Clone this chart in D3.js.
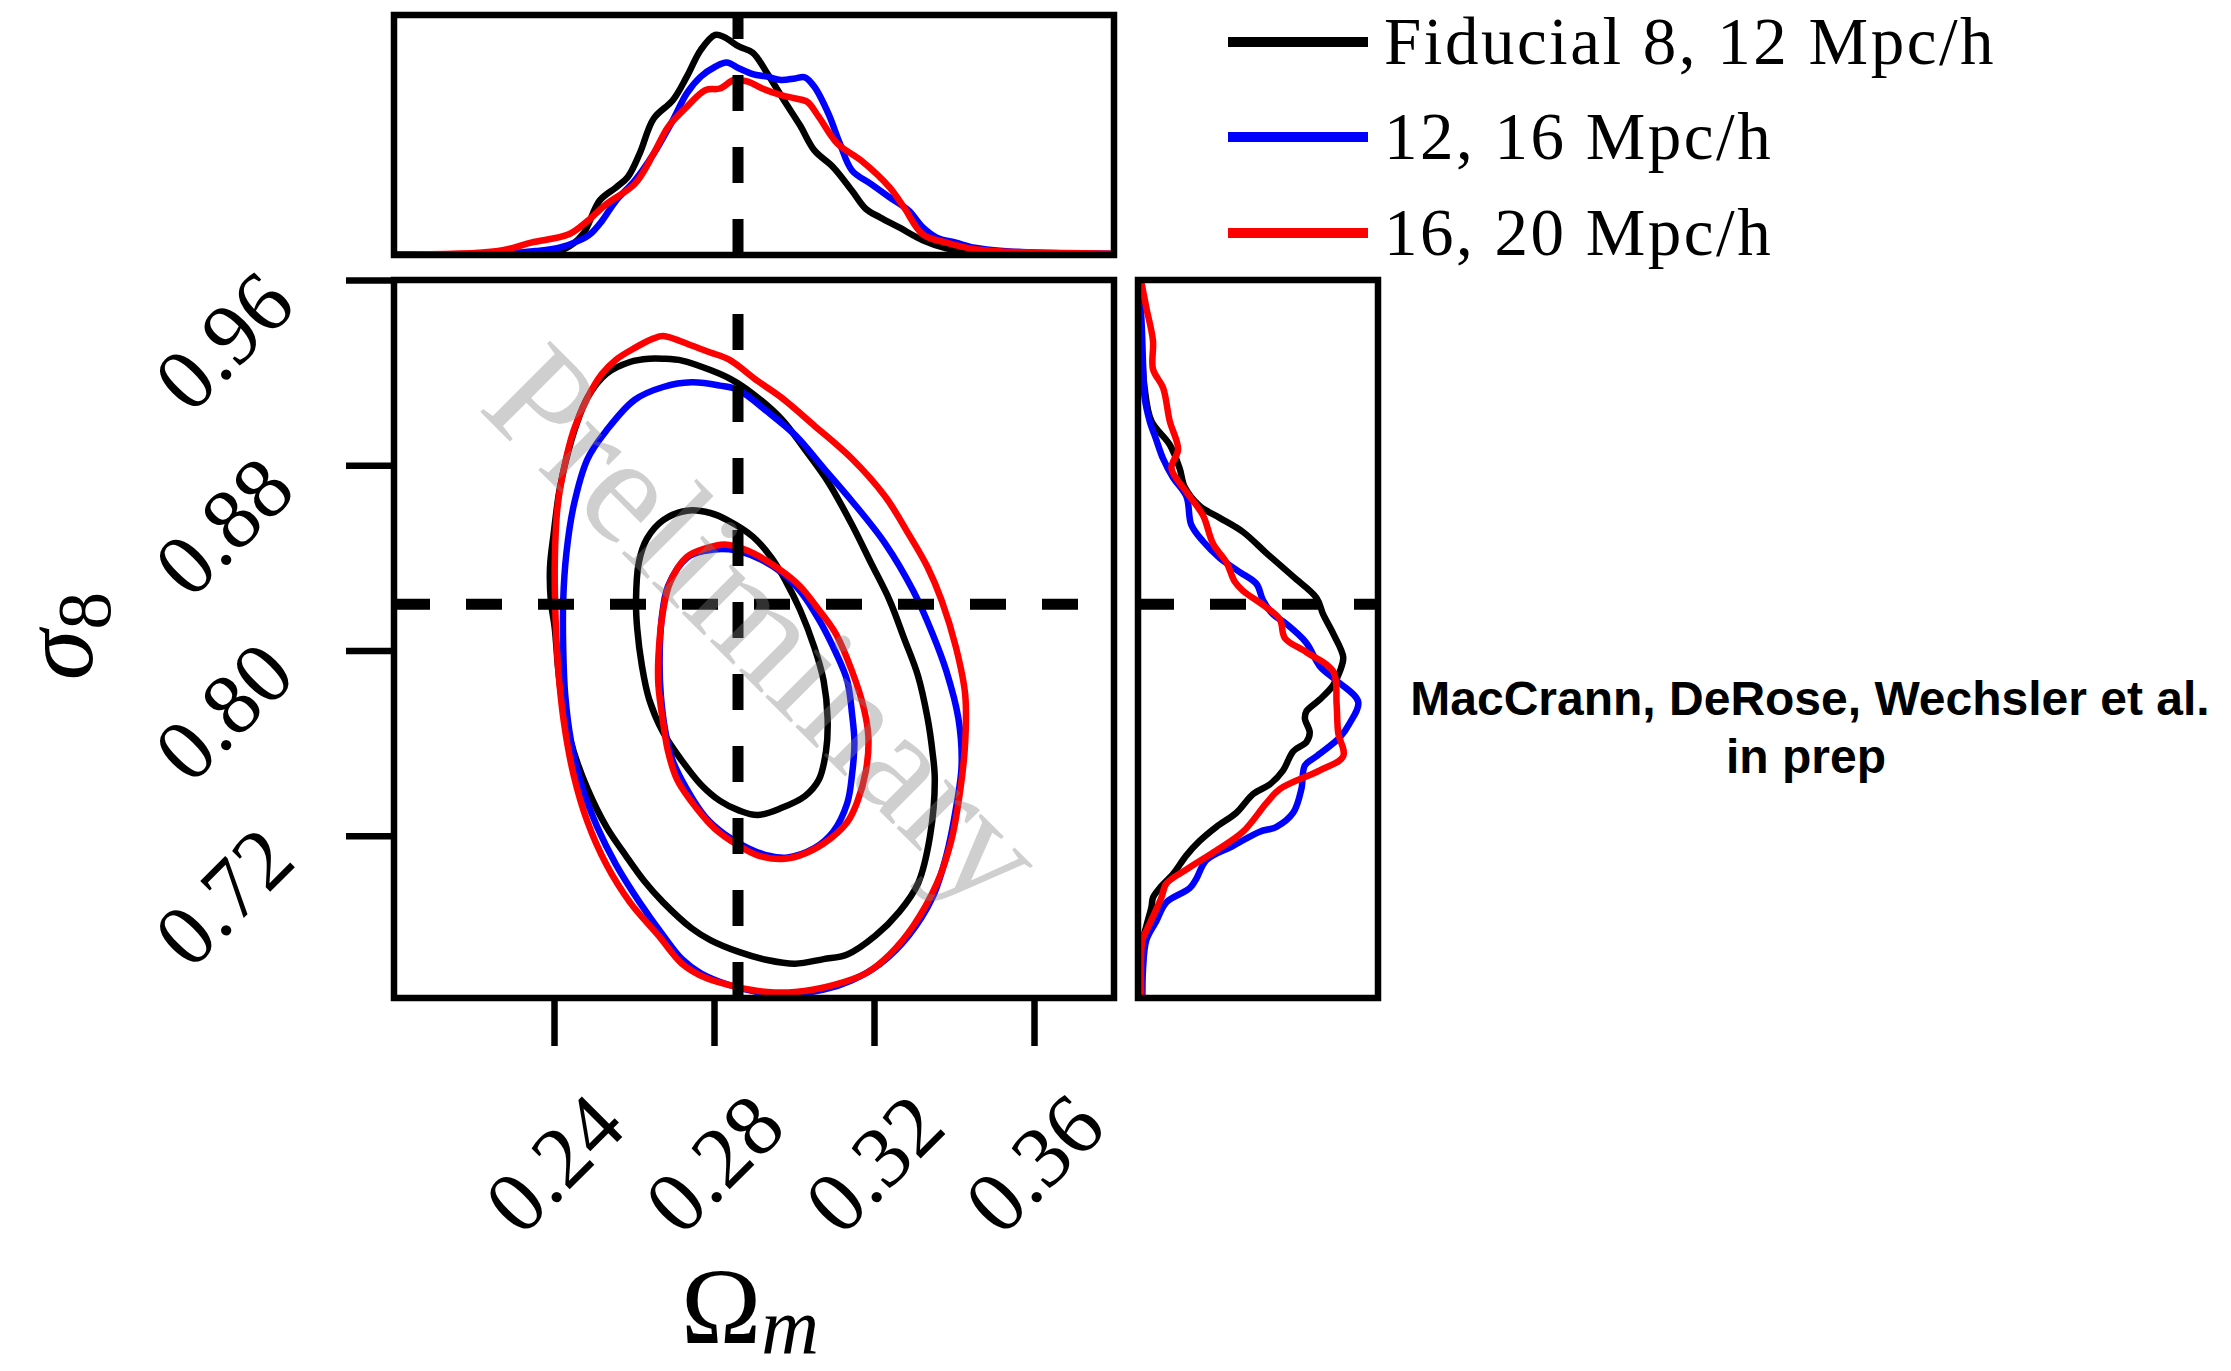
<!DOCTYPE html>
<html>
<head>
<meta charset="utf-8">
<script src="https://cdn.jsdelivr.net/npm/d3@7"></script>
<style>
body { margin: 0; background: #fff; }
</style>
</head>
<body>
<svg width="2231" height="1371"></svg>
<script>
// ---- data ----
const omegaTicks = [0.24, 0.28, 0.32, 0.36];
const sigmaTicks = [0.72, 0.80, 0.88, 0.96];
const omegaTrue = 0.286;
const sigmaTrue = 0.82;
const seriesNames = ["Fiducial 8, 12 Mpc/h", "12, 16 Mpc/h", "16, 20 Mpc/h"];
const seriesColors = ["black", "blue", "red"];

// 2D contours [Omega_m, sigma_8]  (68% inner, 95% outer)
const fid95 = [[0.2673,0.9260],[0.2720,0.9252],[0.2791,0.9211],[0.2844,0.9170],[0.2897,0.9109],[0.2968,0.9001],[0.3027,0.8869],[0.3086,0.8726],[0.3145,0.8543],[0.3192,0.8380],[0.3239,0.8217],[0.3275,0.8054],[0.3310,0.7891],[0.3334,0.7707],[0.3346,0.7565],[0.3352,0.7442],[0.3340,0.7198],[0.3310,0.6994],[0.3263,0.6872],[0.3204,0.6770],[0.3133,0.6688],[0.3074,0.6668],[0.3003,0.6648],[0.2933,0.6664],[0.2862,0.6699],[0.2791,0.6750],[0.2744,0.6801],[0.2673,0.6913],[0.2626,0.7004],[0.2579,0.7116],[0.2531,0.7239],[0.2484,0.7402],[0.2449,0.7565],[0.2425,0.7728],[0.2411,0.7911],[0.2402,0.8095],[0.2392,0.8217],[0.2390,0.8360],[0.2399,0.8502],[0.2413,0.8685],[0.2431,0.8828],[0.2455,0.8971],[0.2484,0.9093],[0.2531,0.9195],[0.2590,0.9246],[0.2638,0.9260]];
const fid68 = [[0.2732,0.8604],[0.2791,0.8594],[0.2838,0.8559],[0.2897,0.8492],[0.2944,0.8400],[0.2980,0.8298],[0.3015,0.8176],[0.3051,0.8013],[0.3074,0.7870],[0.3084,0.7707],[0.3080,0.7565],[0.3062,0.7442],[0.3027,0.7371],[0.2968,0.7320],[0.2909,0.7290],[0.2862,0.7310],[0.2815,0.7351],[0.2767,0.7422],[0.2720,0.7524],[0.2673,0.7646],[0.2638,0.7789],[0.2620,0.7932],[0.2608,0.8095],[0.2605,0.8217],[0.2612,0.8380],[0.2632,0.8482],[0.2673,0.8563]];
const mid95 = [[0.2744,0.9158],[0.2815,0.9144],[0.2862,0.9124],[0.2933,0.9032],[0.3003,0.8930],[0.3074,0.8788],[0.3145,0.8645],[0.3228,0.8462],[0.3298,0.8258],[0.3346,0.8074],[0.3381,0.7911],[0.3411,0.7707],[0.3419,0.7504],[0.3405,0.7320],[0.3381,0.7116],[0.3346,0.6933],[0.3287,0.6770],[0.3216,0.6648],[0.3145,0.6577],[0.3074,0.6536],[0.2980,0.6515],[0.2909,0.6526],[0.2838,0.6556],[0.2767,0.6607],[0.2720,0.6668],[0.2673,0.6770],[0.2614,0.6913],[0.2555,0.7076],[0.2508,0.7239],[0.2472,0.7402],[0.2443,0.7605],[0.2428,0.7809],[0.2423,0.8013],[0.2423,0.8217],[0.2431,0.8421],[0.2449,0.8624],[0.2484,0.8828],[0.2531,0.8950],[0.2602,0.9083],[0.2673,0.9138]];
const mid68 = [[0.2838,0.8437],[0.2909,0.8400],[0.2968,0.8339],[0.3015,0.8258],[0.3062,0.8135],[0.3104,0.7993],[0.3133,0.7870],[0.3145,0.7728],[0.3151,0.7605],[0.3145,0.7463],[0.3133,0.7341],[0.3098,0.7218],[0.3051,0.7147],[0.2980,0.7106],[0.2933,0.7116],[0.2885,0.7147],[0.2826,0.7208],[0.2779,0.7280],[0.2732,0.7402],[0.2697,0.7524],[0.2679,0.7646],[0.2667,0.7809],[0.2664,0.7952],[0.2669,0.8135],[0.2685,0.8278],[0.2732,0.8400],[0.2779,0.8431]];
const far95 = [[0.2673,0.9358],[0.2744,0.9317],[0.2791,0.9287],[0.2838,0.9256],[0.2909,0.9164],[0.2968,0.9093],[0.3051,0.8971],[0.3145,0.8828],[0.3228,0.8665],[0.3287,0.8502],[0.3334,0.8360],[0.3369,0.8217],[0.3405,0.8013],[0.3428,0.7809],[0.3428,0.7605],[0.3416,0.7402],[0.3393,0.7178],[0.3357,0.6994],[0.3298,0.6811],[0.3239,0.6688],[0.3180,0.6607],[0.3098,0.6556],[0.3003,0.6526],[0.2933,0.6526],[0.2862,0.6546],[0.2779,0.6587],[0.2720,0.6648],[0.2661,0.6770],[0.2590,0.6913],[0.2531,0.7076],[0.2484,0.7259],[0.2449,0.7463],[0.2425,0.7687],[0.2411,0.7911],[0.2404,0.8135],[0.2402,0.8380],[0.2409,0.8624],[0.2425,0.8788],[0.2449,0.8950],[0.2484,0.9093],[0.2520,0.9195],[0.2555,0.9256],[0.2602,0.9307],[0.2649,0.9348]];
const far68 = [[0.2826,0.8458],[0.2885,0.8431],[0.2956,0.8360],[0.3015,0.8278],[0.3062,0.8176],[0.3104,0.8074],[0.3145,0.7911],[0.3175,0.7748],[0.3186,0.7626],[0.3180,0.7483],[0.3157,0.7341],[0.3133,0.7259],[0.3074,0.7167],[0.3015,0.7116],[0.2968,0.7100],[0.2909,0.7116],[0.2862,0.7157],[0.2803,0.7229],[0.2756,0.7320],[0.2708,0.7442],[0.2685,0.7565],[0.2673,0.7687],[0.2661,0.7850],[0.2661,0.7972],[0.2673,0.8176],[0.2691,0.8298],[0.2732,0.8404],[0.2779,0.8441]];

// 1D marginals, Omega_m [value, density]
const fidOmega = [[0.2000,0.003],[0.2201,0.003],[0.2366,0.008],[0.2425,0.026],[0.2472,0.094],[0.2514,0.247],[0.2555,0.307],[0.2584,0.353],[0.2614,0.460],[0.2649,0.619],[0.2697,0.703],[0.2732,0.810],[0.2767,0.932],[0.2803,1.000],[0.2826,0.989],[0.2862,0.947],[0.2897,0.919],[0.2933,0.825],[0.2980,0.688],[0.3015,0.589],[0.3051,0.475],[0.3098,0.399],[0.3145,0.292],[0.3180,0.209],[0.3216,0.170],[0.3263,0.125],[0.3322,0.067],[0.3381,0.030],[0.3452,0.010],[0.3558,0.005],[0.3800,0.001]];
const midOmega = [[0.2000,0.002],[0.2260,0.006],[0.2354,0.018],[0.2413,0.033],[0.2461,0.064],[0.2490,0.094],[0.2520,0.155],[0.2555,0.247],[0.2602,0.338],[0.2649,0.460],[0.2697,0.612],[0.2732,0.734],[0.2767,0.810],[0.2803,0.855],[0.2832,0.874],[0.2862,0.848],[0.2897,0.822],[0.2933,0.810],[0.2968,0.795],[0.3003,0.802],[0.3027,0.807],[0.3051,0.764],[0.3086,0.642],[0.3115,0.505],[0.3145,0.384],[0.3192,0.323],[0.3239,0.262],[0.3287,0.201],[0.3322,0.125],[0.3357,0.079],[0.3405,0.056],[0.3452,0.033],[0.3522,0.018],[0.3617,0.010],[0.3800,0.006]];
const farOmega = [[0.2000,0.002],[0.2260,0.018],[0.2343,0.056],[0.2437,0.094],[0.2484,0.155],[0.2531,0.231],[0.2602,0.323],[0.2649,0.460],[0.2685,0.581],[0.2732,0.673],[0.2779,0.749],[0.2815,0.756],[0.2850,0.795],[0.2885,0.787],[0.2921,0.756],[0.2968,0.726],[0.3003,0.711],[0.3033,0.696],[0.3062,0.627],[0.3109,0.505],[0.3168,0.429],[0.3239,0.307],[0.3275,0.216],[0.3322,0.094],[0.3381,0.056],[0.3452,0.026],[0.3534,0.015],[0.3676,0.009],[0.3800,0.006]];

// 1D marginals, sigma_8 [value, density]
const fidSigma = [[0.9600,0.003],[0.9582,0.005],[0.9338,0.015],[0.9134,0.030],[0.8991,0.061],[0.8889,0.144],[0.8787,0.189],[0.8706,0.212],[0.8624,0.280],[0.8573,0.371],[0.8512,0.477],[0.8421,0.583],[0.8319,0.705],[0.8227,0.811],[0.8156,0.841],[0.8074,0.886],[0.7972,0.932],[0.7911,0.917],[0.7850,0.886],[0.7789,0.826],[0.7738,0.765],[0.7707,0.758],[0.7646,0.780],[0.7605,0.765],[0.7565,0.705],[0.7483,0.659],[0.7422,0.598],[0.7381,0.523],[0.7300,0.447],[0.7239,0.356],[0.7178,0.280],[0.7116,0.220],[0.7035,0.159],[0.6974,0.098],[0.6933,0.068],[0.6892,0.061],[0.6811,0.038],[0.6750,0.023],[0.6500,0.015]];
const midSigma = [[0.9600,0.000],[0.9439,0.015],[0.9236,0.023],[0.9093,0.030],[0.8991,0.053],[0.8910,0.083],[0.8828,0.114],[0.8747,0.159],[0.8665,0.220],[0.8543,0.242],[0.8472,0.295],[0.8400,0.371],[0.8339,0.462],[0.8288,0.538],[0.8217,0.568],[0.8156,0.614],[0.8115,0.674],[0.8033,0.765],[0.7932,0.826],[0.7870,0.902],[0.7779,1.000],[0.7687,0.962],[0.7626,0.917],[0.7544,0.811],[0.7504,0.758],[0.7402,0.742],[0.7300,0.705],[0.7239,0.629],[0.7218,0.553],[0.7157,0.432],[0.7096,0.311],[0.7015,0.265],[0.6974,0.235],[0.6913,0.129],[0.6831,0.083],[0.6750,0.038],[0.6627,0.023],[0.6500,0.020]];
const farSigma = [[0.9592,0.015],[0.9480,0.038],[0.9338,0.068],[0.9215,0.068],[0.9134,0.114],[0.8991,0.144],[0.8869,0.182],[0.8787,0.152],[0.8685,0.220],[0.8584,0.295],[0.8461,0.341],[0.8380,0.402],[0.8298,0.439],[0.8258,0.477],[0.8197,0.568],[0.8135,0.644],[0.8054,0.667],[0.7993,0.765],[0.7911,0.886],[0.7768,0.902],[0.7646,0.909],[0.7544,0.932],[0.7483,0.826],[0.7402,0.644],[0.7341,0.583],[0.7218,0.477],[0.7137,0.356],[0.7055,0.220],[0.6994,0.129],[0.6933,0.106],[0.6851,0.068],[0.6790,0.038],[0.6750,0.020],[0.6500,0.015]];

// ---- layout ----
let svg = d3.select("svg");
const serif = "'Liberation Serif', 'DejaVu Serif', serif";
const lw = 6.5;

let x = d3.scaleLinear().domain([0.20, 0.38]).range([394, 1114]);
let y = d3.scaleLinear().domain([0.65, 0.96]).range([998, 280]);
let topY = d3.scaleLinear().domain([0, 1.09]).range([255, 15]);
let rightX = d3.scaleLinear().domain([0, 1.09]).range([1138, 1378]);

let defs = svg.append("defs");
function clip(id, x0, y0, w, h) {
    defs.append("clipPath").attr("id", id)
        .append("rect").attr("x", x0).attr("y", y0).attr("width", w).attr("height", h);
}
clip("clipMain", 394, 280, 720, 718);
clip("clipTop", 394, 15, 720, 240);
clip("clipRight", 1138, 280, 240, 718);

// top marginal
let gTop = svg.append("g").attr("clip-path", "url(#clipTop)");
let lineTop = d3.line().x(d => x(d[0])).y(d => topY(d[1])).curve(d3.curveCatmullRom);
[fidOmega, midOmega, farOmega].forEach((s, i) => {
    gTop.append("path").attr("d", lineTop(s))
        .attr("fill", "none").attr("stroke", seriesColors[i]).attr("stroke-width", lw)
        .attr("stroke-linejoin", "round");
});
gTop.append("line")
    .attr("x1", x(omegaTrue)).attr("x2", x(omegaTrue))
    .attr("y1", 255).attr("y2", 15)
    .attr("stroke", "black").attr("stroke-width", 11).attr("stroke-dasharray", "36,36");

// main panel contours
let gMain = svg.append("g").attr("clip-path", "url(#clipMain)");
let lineMain = d3.line().x(d => x(d[0])).y(d => y(d[1])).curve(d3.curveCatmullRomClosed);
[[fid95, fid68], [mid95, mid68], [far95, far68]].forEach((pair, i) => {
    pair.forEach(c => {
        gMain.append("path").attr("d", lineMain(c))
            .attr("fill", "none").attr("stroke", seriesColors[i]).attr("stroke-width", lw)
            .attr("stroke-linejoin", "round");
    });
});
gMain.append("line")
    .attr("x1", x(omegaTrue)).attr("x2", x(omegaTrue))
    .attr("y1", 998).attr("y2", 280)
    .attr("stroke", "black").attr("stroke-width", 11).attr("stroke-dasharray", "36,36");
gMain.append("line")
    .attr("x1", 394).attr("x2", 1114)
    .attr("y1", y(sigmaTrue)).attr("y2", y(sigmaTrue))
    .attr("stroke", "black").attr("stroke-width", 11).attr("stroke-dasharray", "36,36");

// right marginal
let gRight = svg.append("g").attr("clip-path", "url(#clipRight)");
let lineRight = d3.line().x(d => rightX(d[1])).y(d => y(d[0])).curve(d3.curveCatmullRom);
[fidSigma, midSigma, farSigma].forEach((s, i) => {
    gRight.append("path").attr("d", lineRight(s))
        .attr("fill", "none").attr("stroke", seriesColors[i]).attr("stroke-width", lw)
        .attr("stroke-linejoin", "round");
});
gRight.append("line")
    .attr("x1", 1138).attr("x2", 1378)
    .attr("y1", y(sigmaTrue)).attr("y2", y(sigmaTrue))
    .attr("stroke", "black").attr("stroke-width", 11).attr("stroke-dasharray", "36,36");

// watermark
svg.append("text")
    .attr("transform", "translate(756,636) rotate(45)")
    .attr("text-anchor", "middle")
    .attr("dy", "0.24em")
    .style("font-family", serif)
    .style("font-size", "152px")
    .attr("fill", "gray")
    .attr("fill-opacity", 0.38)
    .text("Preliminary");

// frames
[[394, 15, 720, 240], [394, 280, 720, 718], [1138, 280, 240, 718]].forEach(r => {
    svg.append("rect").attr("x", r[0]).attr("y", r[1]).attr("width", r[2]).attr("height", r[3])
        .attr("fill", "none").attr("stroke", "black").attr("stroke-width", lw);
});

// axes
let xAxis = d3.axisBottom(x).tickValues(omegaTicks).tickSize(48).tickFormat(d3.format(".2f"));
let gx = svg.append("g").attr("transform", "translate(0,998)").call(xAxis);
gx.select(".domain").remove();
gx.selectAll(".tick line").attr("stroke", "black").attr("stroke-width", lw);
gx.selectAll(".tick text")
    .attr("y", null).attr("dy", "0.33em")
    .attr("transform", "translate(0,166) rotate(-45)")
    .attr("text-anchor", "middle")
    .attr("fill", "black")
    .style("font-family", serif).style("font-size", "87px");

let yAxis = d3.axisLeft(y).tickValues(sigmaTicks).tickSize(48).tickFormat(d3.format(".2f"));
let gy = svg.append("g").attr("transform", "translate(394,0)").call(yAxis);
gy.select(".domain").remove();
gy.selectAll(".tick line").attr("stroke", "black").attr("stroke-width", lw);
gy.selectAll(".tick text")
    .attr("x", null).attr("dy", "0.33em")
    .attr("transform", "translate(-170,61) rotate(-45)")
    .attr("text-anchor", "middle")
    .attr("fill", "black")
    .style("font-family", serif).style("font-size", "87px");

// axis labels
let xl = svg.append("text")
    .attr("x", 750).attr("y", 1343)
    .attr("text-anchor", "middle")
    .style("font-family", serif).style("font-size", "108px");
xl.append("tspan").text("Ω");
xl.append("tspan").attr("dy", 10).style("font-size", "80px").style("font-style", "italic").text("m");

let yl = svg.append("text")
    .attr("transform", "translate(92,636) rotate(-90)")
    .attr("text-anchor", "middle")
    .style("font-family", serif).style("font-size", "102px");
yl.append("tspan").style("font-style", "italic").text("σ");
yl.append("tspan").attr("dy", 18).style("font-size", "76px").text("8");

// legend
seriesNames.forEach((name, i) => {
    let ly = [42, 137, 233][i];
    svg.append("line")
        .attr("x1", 1228).attr("x2", 1368).attr("y1", ly).attr("y2", ly)
        .attr("stroke", seriesColors[i]).attr("stroke-width", 10);
    svg.append("text")
        .attr("x", 1384).attr("y", ly + 22)
        .style("font-family", serif).style("font-size", "67px")
        .style("letter-spacing", "2.5px")
        .text(name);
});

// annotation
let ann = svg.append("text")
    .attr("text-anchor", "middle")
    .style("font-family", "'Liberation Sans', Arial, sans-serif")
    .style("font-weight", "bold").style("font-size", "48px");
ann.append("tspan").attr("x", 1810).attr("y", 715).text("MacCrann, DeRose, Wechsler et al.");
ann.append("tspan").attr("x", 1806).attr("y", 773).text("in prep");
</script>
</body>
</html>
